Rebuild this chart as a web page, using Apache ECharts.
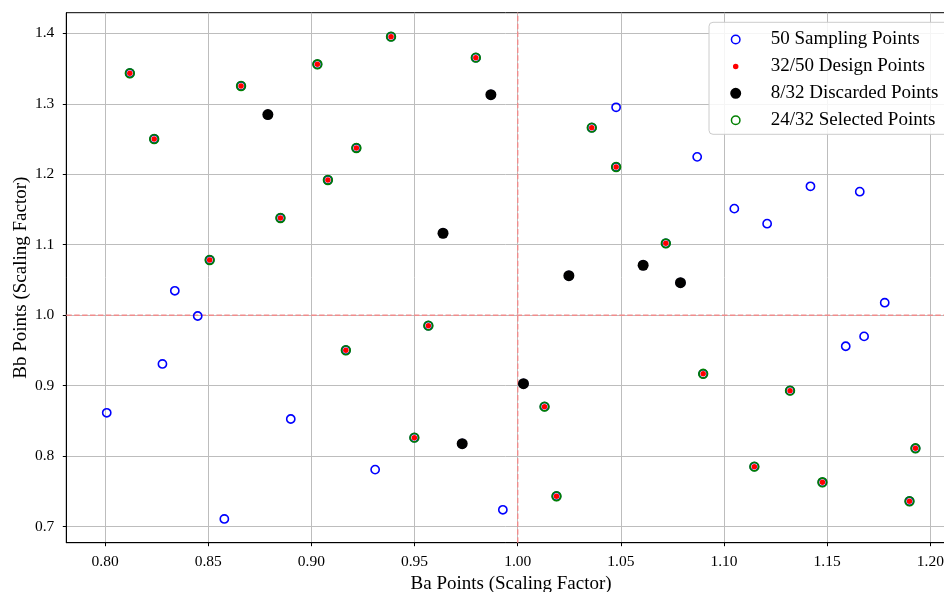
<!DOCTYPE html>
<html>
<head>
<meta charset="utf-8">
<script src="https://cdn.jsdelivr.net/npm/echarts@6/dist/echarts.min.js"></script>
<style>html,body{margin:0;padding:0;background:#fff}#c{width:944px;height:592px}</style>
</head>
<body>
<div id="c"></div>
<script>
// Sampling points that are not design points
var samplingOnlyBa = [0.8008,0.8278,0.8338,0.8449,0.8578,0.8900,0.9309,0.9928,1.0477,1.0870,1.1050,1.1209,1.1419,1.1658,1.1779,1.1679,1.1590];
var samplingOnlyBb = [0.8616,0.9309,1.0347,0.9989,0.7110,0.8528,0.7810,0.7240,1.2950,1.2247,1.1512,1.1299,1.1829,1.1753,1.0178,0.9700,0.9560];
// Design points: discarded
var discardedBa = [0.8789,0.9870,0.9638,1.0248,1.0608,1.0789,1.0028,0.9731];
var discardedBb = [1.2847,1.3129,1.1163,1.0561,1.0709,1.0462,0.9029,0.8178];
// Design points: selected
var selectedBa = [0.8120,0.8238,0.8659,0.9029,0.9080,0.8850,0.8507,0.9386,0.9797,0.9218,1.0359,1.0477,1.0718,0.9567,0.9167,0.9499,1.0130,1.0188,1.0899,1.1320,1.1147,1.1477,1.1928,1.1899];
var selectedBb = [1.3433,1.2500,1.3252,1.3560,1.1919,1.1380,1.0784,1.3952,1.3654,1.2373,1.2661,1.2103,1.1020,0.9852,0.9503,0.8263,0.8703,0.7432,0.9169,0.8930,0.7852,0.7630,0.8112,0.7361];
var xTicks = [0.80,0.85,0.90,0.95,1.00,1.05,1.10,1.15,1.20];
var yTicks = [0.7,0.8,0.9,1.0,1.1,1.2,1.3,1.4];
var xRange = [0.7812, 1.2124];
var yRange = [0.6773, 1.4292];
var refBa = 1.0;   // vertical reference line
var refBb = 1.0;   // horizontal reference line
var seriesNames = ['50 Sampling Points','32/50 Design Points','8/32 Discarded Points','24/32 Selected Points'];

function zip(a, b) { return a.map(function (v, i) { return [v, b[i]]; }); }
var samplingOnly = zip(samplingOnlyBa, samplingOnlyBb);
var discarded = zip(discardedBa, discardedBb);
var selected = zip(selectedBa, selectedBb);
var design = discarded.concat(selected);
var sampling = samplingOnly.concat(design);

var FONT = 'Liberation Serif';
var refLineStyle = {color: '#f08c8c', type: [5.5, 2.4], width: 1.4, opacity: 1};
var chart = echarts.init(document.getElementById('c'), null, {renderer: 'canvas'});
chart.setOption({
  animation: false,
  backgroundColor: '#fff',
  textStyle: {fontFamily: FONT, color: '#000'},
  grid: {left: 66.3, top: 12.7, bottom: 49.3, right: -11.9, containLabel: false, outerBoundsMode: 'none',
         show: true, borderColor: '#000', borderWidth: 1, backgroundColor: 'transparent'},
  xAxis: {
    type: 'value', min: xRange[0], max: xRange[1], minInterval: 0.05, maxInterval: 0.05,
    name: 'Ba Points (Scaling Factor)', nameLocation: 'middle', nameGap: 32, nameMoveOverlap: false,
    nameTextStyle: {fontFamily: FONT, fontSize: 19, color: '#000'},
    axisLine: {show: true, onZero: false, lineStyle: {color: '#000', width: 1}},
    axisTick: {show: true, inside: false, length: 3.5, lineStyle: {color: '#000', width: 1}, customValues: xTicks},
    axisLabel: {fontFamily: FONT, fontSize: 15.5, color: '#000', margin: 11.5, customValues: xTicks, formatter: function (v) { return v.toFixed(2); }},
    splitLine: {show: true, lineStyle: {color: '#bdbdbd', width: 1}}
  },
  yAxis: {
    type: 'value', min: yRange[0], max: yRange[1], minInterval: 0.1, maxInterval: 0.1,
    name: 'Bb Points (Scaling Factor)', nameLocation: 'middle', nameGap: 36, nameRotate: 90, nameMoveOverlap: false,
    nameTextStyle: {fontFamily: FONT, fontSize: 19, color: '#000'},
    axisLine: {show: true, onZero: false, lineStyle: {color: '#000', width: 1}},
    axisTick: {show: true, inside: false, length: 3.5, lineStyle: {color: '#000', width: 1}, customValues: yTicks},
    axisLabel: {fontFamily: FONT, fontSize: 15.5, color: '#000', margin: 12, customValues: yTicks, formatter: function (v) { return v.toFixed(1); }},
    splitLine: {show: true, lineStyle: {color: '#bdbdbd', width: 1}}
  },
  legend: {
    orient: 'vertical', left: 729.95, top: 29.5, padding: 0, z: 10,
    itemWidth: 60, itemHeight: 8.5, itemGap: 6.9,
    selectedMode: false,
    textStyle: {fontFamily: FONT, fontSize: 19, color: '#000', lineHeight: 20},
    data: [
      {name: seriesNames[0], icon: 'circle', itemStyle: {color: 'transparent', borderColor: '#0000ff', borderWidth: 1.5, opacity: 1}},
      {name: seriesNames[1], icon: 'circle', itemStyle: {color: '#ff0000', borderColor: '#ffffff', borderWidth: 3, opacity: 1}},
      {name: seriesNames[2], icon: 'circle', itemStyle: {color: '#000000', borderColor: '#000000', borderWidth: 2.5, opacity: 1}},
      {name: seriesNames[3], icon: 'circle', itemStyle: {color: 'transparent', borderColor: '#008000', borderWidth: 1.5, opacity: 1}}
    ]
  },
  graphic: [{
    type: 'rect', z: 9, silent: true,
    shape: {x: 709, y: 22.3, width: 260, height: 112, r: 4},
    style: {fill: 'rgba(255,255,255,0.85)', stroke: '#cccccc', lineWidth: 1}
  }],
  series: [
    {
      name: 'refV', type: 'line', data: [[refBa, yRange[0]], [refBa, yRange[1]]], z: 2, silent: true,
      showSymbol: false, symbol: 'none', lineStyle: refLineStyle, emphasis: {disabled: true}, tooltip: {show: false}
    },
    {
      name: 'refH', type: 'line', data: [[xRange[0], refBb], [xRange[1], refBb]], z: 2, silent: true,
      showSymbol: false, symbol: 'none', lineStyle: refLineStyle, emphasis: {disabled: true}, tooltip: {show: false}
    },
    {
      name: seriesNames[0], type: 'scatter', data: sampling, z: 3, silent: true,
      symbol: 'circle', symbolSize: 8.2,
      itemStyle: {color: 'transparent', borderColor: '#0000ff', borderWidth: 1.6, opacity: 1},
      emphasis: {disabled: true}
    },
    {
      name: seriesNames[1], type: 'scatter', data: design, z: 4, silent: true,
      symbol: 'circle', symbolSize: 5.5,
      itemStyle: {color: '#ff0000', borderWidth: 0, opacity: 1},
      emphasis: {disabled: true}
    },
    {
      name: seriesNames[2], type: 'scatter', data: discarded, z: 5, silent: true,
      symbol: 'circle', symbolSize: 11,
      itemStyle: {color: '#000000', borderWidth: 0, opacity: 1},
      emphasis: {disabled: true}
    },
    {
      name: seriesNames[3], type: 'scatter', data: selected, z: 6, silent: true,
      symbol: 'circle', symbolSize: 8.6,
      itemStyle: {color: 'transparent', borderColor: '#008000', borderWidth: 1.8, opacity: 1},
      emphasis: {disabled: true}
    }
  ]
});
</script>
</body>
</html>
